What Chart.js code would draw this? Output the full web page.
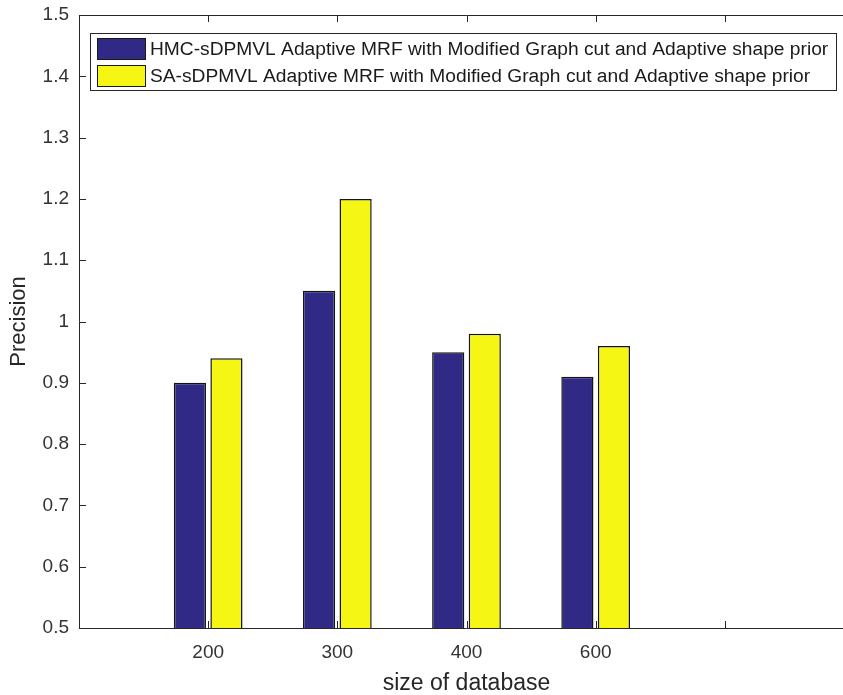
<!DOCTYPE html>
<html>
<head>
<meta charset="utf-8">
<title>Precision vs size of database</title>
<script src="https://cdn.jsdelivr.net/npm/chart.js@4.4.0/dist/chart.umd.min.js"></script>
<style>
    html, body { margin: 0; padding: 0; background: #fff; overflow: hidden; }
    #wrap { width: 862px; height: 695px; }
</style>
</head>
<body>
<div id="wrap"><canvas id="chart"></canvas></div>
<script>
// --- data ---
// x runs 0..6 like the matlab axes, bars sit on 1..5 (5th slot is empty)
const categories = ['', '200', '300', '400', '600', '', ''];
const hmcValues = [null, 0.90, 1.05, 0.95, 0.91, null, null];
const saValues = [null, 0.94, 1.20, 0.98, 0.96, null, null];
const seriesNames = [
    'HMC-sDPMVL Adaptive MRF with Modified Graph cut and Adaptive shape prior',
    'SA-sDPMVL Adaptive MRF with Modified Graph cut and Adaptive shape prior'
];
const yTicks = [0.5, 0.6, 0.7, 0.8, 0.9, 1.0, 1.1, 1.2, 1.3, 1.4, 1.5];

const FONT = "'Liberation Sans', Arial, Helvetica, sans-serif";
const AXIS = '#262626';
const TICK_LEN = 7;

// matlab style box: axis lines + ticks pointing inwards
const matlabBox = {
    id: 'matlabBox',
    afterDatasetsDraw(chart) {
        const { ctx, chartArea: a, scales: { x, y } } = chart;
        ctx.save();
        ctx.strokeStyle = AXIS;
        ctx.lineWidth = 1;
        ctx.beginPath();
        ctx.moveTo(a.left + 0.5, a.top + 0.5);
        ctx.lineTo(a.right, a.top + 0.5);
        ctx.moveTo(a.left + 0.5, a.top);
        ctx.lineTo(a.left + 0.5, a.bottom + 0.5);
        ctx.lineTo(a.right, a.bottom + 0.5);
        for (let i = 1; i < categories.length - 1; i++) {
            const px = Math.round(x.getPixelForTick(i)) + 0.5;
            ctx.moveTo(px, a.bottom);
            ctx.lineTo(px, a.bottom - TICK_LEN);
            ctx.moveTo(px, a.top);
            ctx.lineTo(px, a.top + TICK_LEN);
        }
        y.ticks.forEach(t => {
            const py = Math.round(y.getPixelForValue(t.value)) + 0.5;
            ctx.moveTo(a.left, py);
            ctx.lineTo(a.left + TICK_LEN, py);
        });
        ctx.stroke();
        ctx.restore();
    }
};

// legend box drawn inside the axes, top left
const insideLegend = {
    id: 'insideLegend',
    afterDraw(chart) {
        const ctx = chart.ctx;
        const left = 90.5, top = 33.5, right = 836.5, bottom = 90.5;
        ctx.save();
        ctx.fillStyle = '#fff';
        ctx.fillRect(left, top, right - left, bottom - top);
        ctx.strokeStyle = AXIS;
        ctx.lineWidth = 1;
        ctx.strokeRect(left, top, right - left, bottom - top);

        ctx.font = '19.2px ' + FONT;
        ctx.textBaseline = 'middle';
        chart.data.datasets.forEach((ds, i) => {
            const sy = 38.5 + i * 27;
            ctx.fillStyle = ds.backgroundColor;
            ctx.fillRect(97.5, sy, 48, 21);
            ctx.strokeStyle = '#1a1a1a';
            ctx.strokeRect(97.5, sy, 48, 21);
            ctx.fillStyle = '#1a1a1a';
            ctx.fillText(ds.label, 150, sy + 11);
        });
        ctx.restore();
    }
};

const ctx = document.getElementById('chart').getContext('2d');
new Chart(ctx, {
    type: 'bar',
    data: {
        labels: categories,
        datasets: [
            {
                label: seriesNames[0],
                data: hmcValues,
                backgroundColor: '#302a86',
                borderColor: '#141414',
                borderWidth: 1.5
            },
            {
                label: seriesNames[1],
                data: saValues,
                backgroundColor: '#f6f614',
                borderColor: '#141414',
                borderWidth: 1.5
            }
        ]
    },
    options: {
        responsive: true,
        maintainAspectRatio: false,
        animation: false,
        categoryPercentage: 0.566,
        barPercentage: 0.88,
        layout: { padding: { top: 15, right: 8, left: 0, bottom: 0 } },
        plugins: {
            legend: { display: false },
            tooltip: { enabled: false }
        },
        scales: {
            x: {
                offset: false,
                grid: { display: false },
                border: { display: false },
                ticks: {
                    color: '#333',
                    font: { family: FONT, size: 19 },
                    padding: 5,
                    maxRotation: 0,
                    autoSkip: false
                },
                title: {
                    display: true,
                    text: 'size of database',
                    color: AXIS,
                    font: { family: FONT, size: 23, lineHeight: 1 },
                    padding: { top: 0, bottom: 0 }
                },
                afterFit: s => { s.height = 67; }
            },
            y: {
                min: 0.5,
                max: 1.5,
                grid: { display: false },
                border: { display: false },
                afterBuildTicks: s => { s.ticks = yTicks.map(v => ({ value: v })); },
                ticks: {
                    color: '#333',
                    font: { family: FONT, size: 19 },
                    padding: 2,
                    callback: v => String(Number(v.toFixed(1)))
                },
                title: {
                    display: true,
                    text: 'Precision',
                    color: AXIS,
                    font: { family: FONT, size: 22, lineHeight: 1 },
                    padding: { top: 8, bottom: 0 }
                },
                afterFit: s => { s.width = 79; }
            }
        }
    },
    plugins: [matlabBox, insideLegend]
});
</script>
</body>
</html>
